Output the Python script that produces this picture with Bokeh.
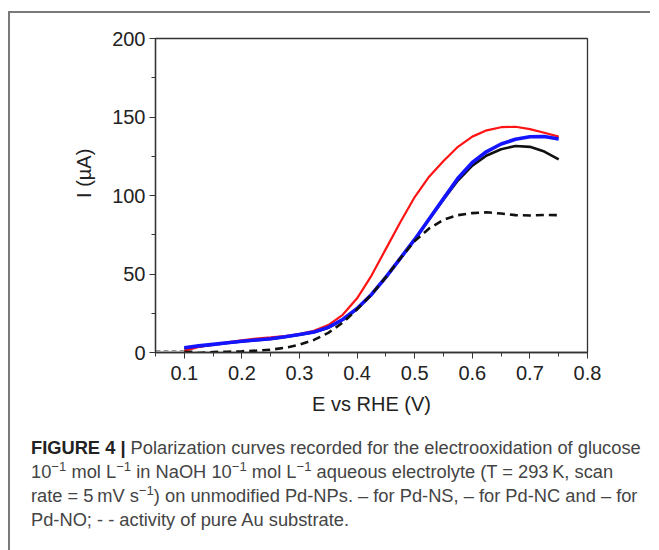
from bokeh.plotting import figure
from bokeh.models import FixedTicker, Div, Spacer
from bokeh.layouts import column, row
from bokeh.embed import file_html
from bokeh.resources import INLINE

# ---- data ----
potential = [0.10, 0.125, 0.15, 0.175, 0.20, 0.225, 0.25, 0.275, 0.30, 0.325, 0.35,
             0.375, 0.40, 0.425, 0.45, 0.475, 0.50, 0.525, 0.55, 0.575, 0.60,
             0.625, 0.65, 0.675, 0.70, 0.725, 0.75]
pd_ns = [2.5, 3.8, 4.9, 6.0, 7.0, 7.9, 8.7, 9.9, 11.4, 12.9, 15.8,
         20.8, 27.8, 36.8, 47.8, 59.8, 71.8, 84.8, 97.5, 109.5, 119.0,
         125.5, 129.5, 131.5, 131.0, 128.0, 123.0]
pd_nc = [1.0, 3.5, 5.0, 6.5, 7.8, 8.8, 9.6, 10.5, 11.8, 13.8, 17.5,
         24.0, 34.5, 49.0, 66.0, 83.0, 99.0, 112.0, 122.0, 131.0, 137.5,
         141.5, 143.5, 143.8, 142.3, 140.0, 137.5]
pd_no = [3.0, 4.2, 5.2, 6.2, 7.2, 8.0, 8.8, 10.0, 11.5, 13.0, 16.0,
         21.0, 28.0, 37.0, 48.0, 60.0, 72.0, 85.0, 98.0, 111.0, 121.0,
         128.0, 132.8, 135.8, 137.4, 137.6, 136.0]
au_sub = [0.5, -0.3, 0.3, 0.5, 0.8, 1.2, 1.8, 3.0, 5.0, 8.0, 12.5,
          19.0, 27.5, 37.0, 48.0, 60.0, 71.0, 79.0, 84.5, 87.5, 88.8,
          89.3, 88.5, 87.5, 87.3, 87.6, 87.5]
base_x = [0.05, 0.12]
base_y = [1.2, 1.2]

x_ticks = [0.1, 0.2, 0.3, 0.4, 0.5, 0.6, 0.7, 0.8]
x_minor = [0.05, 0.15, 0.25, 0.35, 0.45, 0.55, 0.65, 0.75]
y_ticks = [0, 50, 100, 150, 200]
y_minor = [25, 75, 125, 175]

FONT = "Liberation Sans"
AX = "#333333"

p = figure(width=630, height=407, x_range=(0.05, 0.8), y_range=(0, 200),
           output_backend="svg", toolbar_location=None,
           min_border_left=145, min_border_right=53, min_border_top=25,
           min_border_bottom=68,
           x_axis_label="E vs RHE (V)",
           y_axis_label="\u00a0" * 8 + "I (µA)")
p.xgrid.visible = False
p.ygrid.visible = False
p.outline_line_color = AX
p.outline_line_width = 1.3
p.background_fill_color = "white"
p.border_fill_color = "white"

for ax in (p.xaxis[0], p.yaxis[0]):
    ax.axis_line_color = AX
    ax.axis_line_width = 1.3
    ax.major_tick_line_color = AX
    ax.minor_tick_line_color = AX
    ax.major_tick_in = 0
    ax.major_tick_out = 6
    ax.minor_tick_in = 0
    ax.minor_tick_out = 4
    ax.major_label_text_font = FONT
    ax.major_label_text_font_size = "20px"
    ax.major_label_text_color = "#222222"
    ax.axis_label_text_font = FONT
    ax.axis_label_text_font_size = "20px"
    ax.axis_label_text_font_style = "normal"
    ax.axis_label_text_color = "#222222"

p.xaxis[0].ticker = FixedTicker(ticks=x_ticks, minor_ticks=x_minor)
p.yaxis[0].ticker = FixedTicker(ticks=y_ticks, minor_ticks=y_minor)
p.xaxis[0].major_label_standoff = 7
p.yaxis[0].major_label_standoff = 4
p.xaxis[0].axis_label_standoff = 10
p.yaxis[0].axis_label_standoff = 14

p.line(base_x, base_y, line_color="#8a8a8a", line_width=1, line_dash="5 3")
p.line(potential, pd_ns, line_color="#111111", line_width=2.6)
p.line(potential, pd_nc, line_color="#ff1414", line_width=2.2)
p.line(potential, pd_no, line_color="#1414ff", line_width=3.6)
p.line(potential, au_sub, line_color="#111111", line_width=2.6, line_dash="8 5")

sup = '<sup style="font-size:0.72em;vertical-align:0.55em;line-height:0">−1</sup>'
caption_html = (
    '<div style="font-family:\'Liberation Sans\';font-size:18.3px;line-height:24px;'
    'color:#444;white-space:nowrap;padding-left:16px;padding-top:11px">'
    '<b style="color:#222">FIGURE 4 |</b> Polarization curves recorded for the electrooxidation of glucose<br>'
    f'10{sup} mol L{sup} in NaOH 10{sup} mol L{sup} aqueous electrolyte (T = 293\u2009K, scan<br>'
    f'rate = 5\u2009mV s{sup}) on unmodified Pd-NPs. – for Pd-NS, – for Pd-NC and – for<br>'
    'Pd-NO; - - activity of pure Au substrate.</div>'
)
cap = Div(text=caption_html, width=630, height=120)

inner = column(p, cap, styles={"border-left": "2px solid #7a7a7a",
                                "border-top": "2px solid #7a7a7a"})
root = column(Spacer(height=11, width=10), row(Spacer(width=8, height=10), inner))

open("out.html", "w").write(file_html(root, INLINE))
